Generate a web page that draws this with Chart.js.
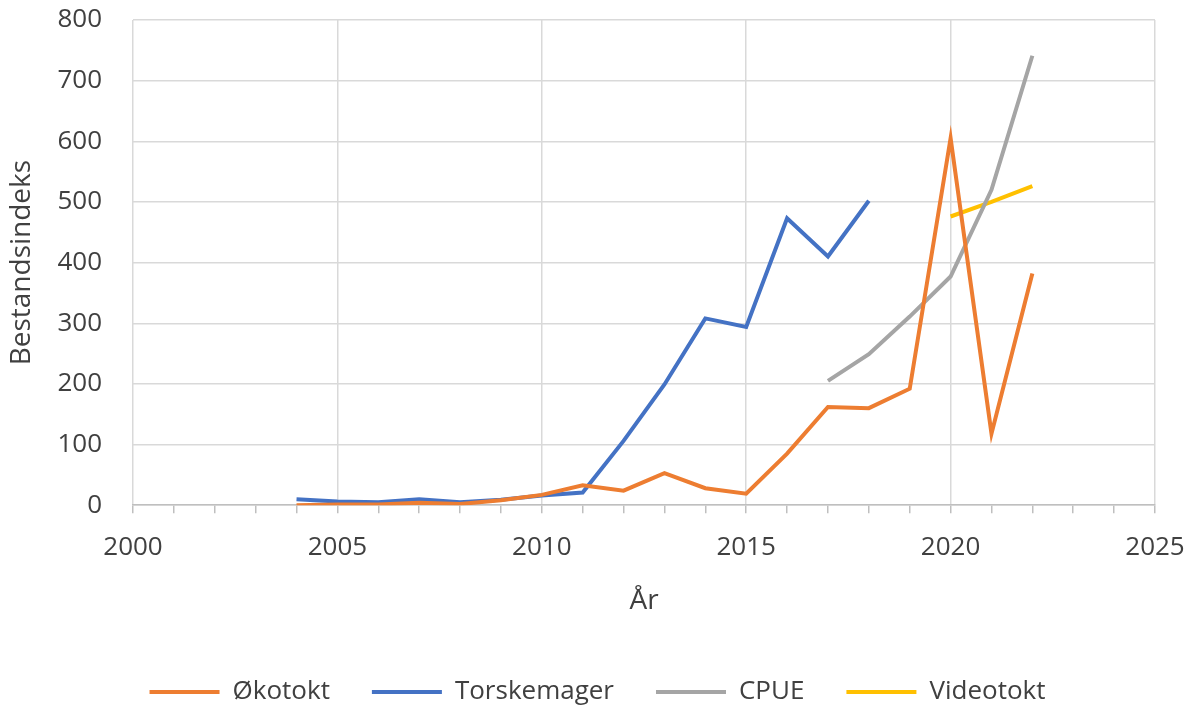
<!DOCTYPE html>
<html>
<head>
<meta charset="utf-8">
<script src="https://cdn.jsdelivr.net/npm/chart.js@4.4.1/dist/chart.umd.min.js"></script>
<style>
  html, body { margin: 0; padding: 0; background: #fff; }
  #wrap { width: 1196px; height: 707px; }
</style>
</head>
<body>
<div id="wrap"><canvas id="chart" width="1196" height="707"></canvas></div>
<script>
// Bestandsindeks per år, fire dataserier
const years = [2004, 2005, 2006, 2007, 2008, 2009, 2010, 2011, 2012, 2013, 2014, 2015, 2016, 2017, 2018, 2019, 2020, 2021, 2022];
const okotokt = [0, 1, 1, 4, 2, 8, 17, 33, 24, 53, 28, 19, 85, 162, 160, 192, 605, 118, 382];
const torskemager = [10, 6, 5, 10, 5, 9, 16, 21, 106, 199, 308, 294, 473, 410, 502, null, null, null, null];
const cpue = [null, null, null, null, null, null, null, null, null, null, null, null, null, 205, 249, 311, 377, 520, 741];
const videotokt = [null, null, null, null, null, null, null, null, null, null, null, null, null, null, null, null, 476, 500, 526];
const yTicks = [0, 100, 200, 300, 400, 500, 600, 700, 800];

const font = "'Open Sans', 'Liberation Sans', sans-serif";
const textColor = '#404040';

function toPoints(values) {
  return years.map((y, i) => ({ x: y, y: values[i] }));
}

function series(label, values, color) {
  return {
    label: label,
    data: toPoints(values),
    borderColor: color,
    backgroundColor: color,
    borderWidth: 4,
    pointRadius: 0,
    tension: 0,
    spanGaps: false
  };
}

const ctx = document.getElementById('chart').getContext('2d');
new Chart(ctx, {
  type: 'line',
  data: {
    datasets: [
      series('Økotokt', okotokt, '#ED7D31'),
      series('Torskemager', torskemager, '#4472C4'),
      series('CPUE', cpue, '#A5A5A5'),
      series('Videotokt', videotokt, '#FFC000')
    ]
  },
  options: {
    responsive: false,
    animation: false,
    // symmetric side padding keeps the legend centred under the plot
    layout: { padding: { left: 40, right: 41, top: 20, bottom: -8 } },
    plugins: {
      legend: {
        position: 'bottom',
        labels: {
          color: textColor,
          font: { family: font, size: 26 },
          boxWidth: 70,
          boxHeight: 4,
          padding: 42,
          // plain filled bar, no outline round the legend swatch
          generateLabels: chart => Chart.defaults.plugins.legend.labels
            .generateLabels(chart)
            .map(l => Object.assign(l, { lineWidth: 0 }))
        }
      },
      tooltip: { enabled: false }
    },
    scales: {
      x: {
        type: 'linear',
        min: 2000,
        max: 2025,
        // keep the end labels from pushing the plot inward
        afterFit: s => { s.paddingLeft = 0; s.paddingRight = 0; },
        ticks: {
          stepSize: 1,
          autoSkip: false,
          maxRotation: 0,
          color: textColor,
          font: { family: font, size: 26 },
          padding: 19,
          callback: v => (v % 5 === 0 ? String(v) : '')
        },
        grid: {
          color: c => (c.tick && c.tick.value % 5 === 0 ? '#d9d9d9' : 'rgba(0,0,0,0)'),
          tickColor: '#bfbfbf',
          tickLength: 8,
          lineWidth: 1.5
        },
        border: { color: '#bfbfbf', width: 1.5 },
        title: {
          display: true,
          text: 'År',
          color: textColor,
          font: { family: font, size: 28 },
          padding: { top: 2, bottom: 19 }
        }
      },
      y: {
        min: 0,
        max: 800,
        afterBuildTicks: axis => { axis.ticks = yTicks.map(v => ({ value: v })); },
        // fixed axis width; the tick padding would otherwise also pad the top
        afterFit: s => { s.width = 93; s.paddingTop = 0; s.paddingBottom = 0; },
        ticks: {
          color: textColor,
          font: { family: font, size: 26 },
          padding: 31
        },
        grid: {
          color: '#d9d9d9',
          lineWidth: 1.5,
          drawTicks: false
        },
        border: { display: false },
        title: {
          display: true,
          text: 'Bestandsindeks',
          color: textColor,
          font: { family: font, size: 28, lineHeight: 1 },
          padding: { top: -32, bottom: 0 }
        }
      }
    }
  }
});
</script>
</body>
</html>
